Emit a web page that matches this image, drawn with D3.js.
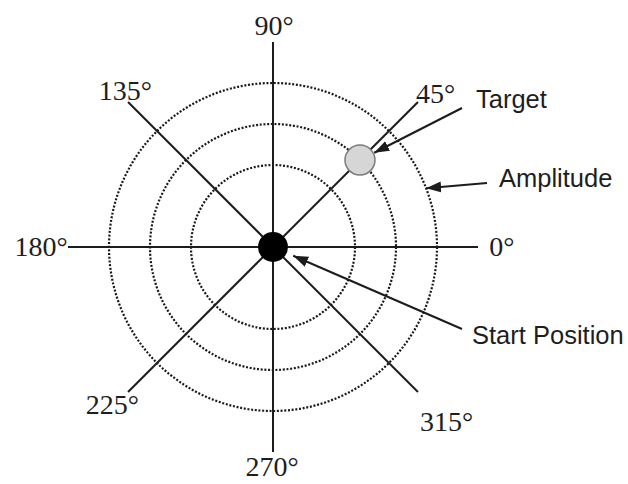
<!DOCTYPE html>
<html>
<head>
<meta charset="utf-8">
<style>
  body { margin: 0; background: #fff; }
  .spoke { stroke: #1c1c1c; stroke-width: 2; }
  .ring { fill: none; stroke: #1a1a1a; stroke-width: 2.2; stroke-dasharray: 2,1.7; }
  .deg { font-family: 'Liberation Serif', 'Times New Roman', serif; font-size: 28px; fill: #1e1e1e; }
  .note { font-family: 'Liberation Sans', Arial, sans-serif; font-size: 25.5px; fill: #1e1e1e; }
  .arrow { stroke: #1c1c1c; stroke-width: 2; fill: none; }
</style>
</head>
<body>
<svg width="628" height="484"></svg>
<script src="https://d3js.org/d3.v7.min.js"></script>
<script>
// directions (degrees) and their labels
const angles = [0, 45, 90, 135, 180, 225, 270, 315];
const angleLabels = ["0°", "45°", "90°", "135°", "180°", "225°", "270°", "315°"];
// dotted amplitude rings
const ringAmplitudes = [2, 3, 4];
const spokeAmplitude = 5;
// target marker
const targetAngle = 45;
const targetAmplitude = 3;
// annotation texts
const noteTexts = ["Target", "Amplitude", "Start Position"];

var svg = d3.select("svg"),
    cx = 273, cy = 247;

var r = d3.scaleLinear().domain([0, 4]).range([0, 164]);

function pt(angle, amp) {
  var a = angle * Math.PI / 180;
  return [cx + r(amp) * Math.cos(a), cy - r(amp) * Math.sin(a)];
}

svg.append("defs").append("marker")
  .attr("id", "head")
  .attr("markerUnits", "userSpaceOnUse")
  .attr("viewBox", "0 0 14 10")
  .attr("refX", 14).attr("refY", 5)
  .attr("markerWidth", 15).attr("markerHeight", 11)
  .attr("orient", "auto")
  .append("path")
  .attr("d", "M0,0 L14,5 L0,10 Z")
  .attr("fill", "#1c1c1c");

// rings
svg.selectAll(".ring")
  .data(ringAmplitudes)
  .enter().append("circle")
  .attr("class", "ring")
  .attr("cx", cx).attr("cy", cy)
  .attr("r", d => r(d));

// spokes, one line per pair of opposite directions
svg.selectAll(".spoke")
  .data(angles.filter(a => a < 180))
  .enter().append("line")
  .attr("class", "spoke")
  .attr("x1", d => pt(d, spokeAmplitude)[0])
  .attr("y1", d => pt(d, spokeAmplitude)[1])
  .attr("x2", d => pt(d + 180, spokeAmplitude)[0])
  .attr("y2", d => pt(d + 180, spokeAmplitude)[1]);

// degree labels, with small hand nudges to sit like the original
var nudge = {0: [-1, 0], 45: [9, 0], 90: [1, -4], 135: [6, -3], 180: [12, 0], 225: [-7, 4], 270: [-1, 2], 315: [20, 21]};
svg.selectAll(".deg")
  .data(angles)
  .enter().append("text")
  .attr("class", "deg")
  .attr("x", d => pt(d, 5.3)[0] + nudge[d][0])
  .attr("y", d => pt(d, 5.3)[1] + nudge[d][1])
  .attr("dy", "0.33em")
  .attr("text-anchor", d => {
    var c = Math.cos(d * Math.PI / 180);
    return c > 0.9 ? "start" : (c < -0.9 ? "end" : "middle");
  })
  .text((d, i) => angleLabels[i]);

// start position dot
svg.append("circle")
  .attr("cx", pt(0, 0)[0]).attr("cy", pt(0, 0)[1])
  .attr("r", 15)
  .attr("fill", "#000");

// target
var tp = pt(targetAngle, targetAmplitude);
svg.append("circle")
  .attr("cx", tp[0]).attr("cy", tp[1])
  .attr("r", 15)
  .attr("fill", "#d6d6d6")
  .attr("stroke", "#7a7a7a")
  .attr("stroke-width", 1.5);

// annotations: text anchor, arrow tail, arrow tip
function towards(from, to, gap) {
  var dx = to[0] - from[0], dy = to[1] - from[1], L = Math.hypot(dx, dy);
  return [to[0] - dx / L * gap, to[1] - dy / L * gap];
}
var ampTip = pt(21, 4);
var notes = [
  {text: noteTexts[0], tx: 476, ty: 108, tail: [462, 108], tip: towards([462, 108], tp, 16)},
  {text: noteTexts[1], tx: 499, ty: 187, tail: [487, 183], tip: ampTip},
  {text: noteTexts[2], tx: 472, ty: 344, tail: [462, 329], tip: towards([462, 329], pt(0, 0), 22)}
];

svg.selectAll(".arrow")
  .data(notes)
  .enter().append("line")
  .attr("class", "arrow")
  .attr("x1", d => d.tail[0]).attr("y1", d => d.tail[1])
  .attr("x2", d => d.tip[0]).attr("y2", d => d.tip[1])
  .attr("marker-end", "url(#head)");

svg.selectAll(".note")
  .data(notes)
  .enter().append("text")
  .attr("class", "note")
  .attr("x", d => d.tx).attr("y", d => d.ty)
  .text(d => d.text);
</script>
</body>
</html>
